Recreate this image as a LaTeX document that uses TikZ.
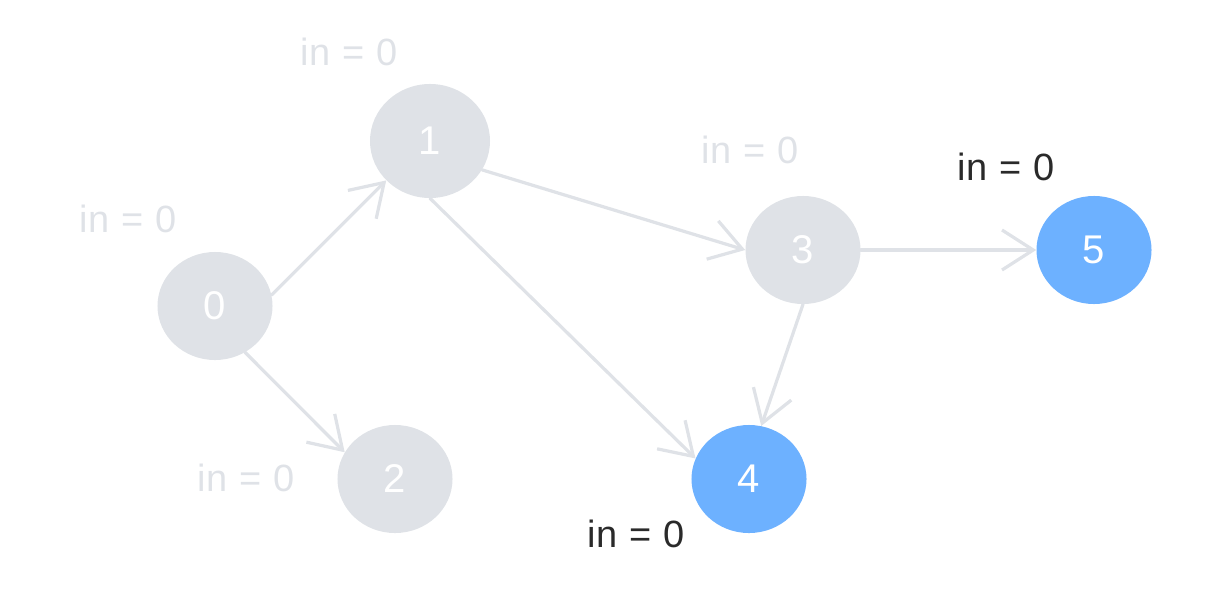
\documentclass[tikz,border=0pt]{standalone}
\usepackage{fontspec}
\setmainfont{Liberation Sans}
\usetikzlibrary{arrows.meta,shapes.geometric}
\definecolor{vertexgrey}{HTML}{DFE2E7}
\definecolor{vertexblue}{HTML}{6DB1FF}
\definecolor{labeldark}{HTML}{2A2A2A}
\tikzset{
  graph vertex/.style={ellipse,fill=vertexgrey,text=white,minimum width=2.875cm,
    minimum height=2.7cm,inner sep=0pt,font=\fontsize{28.5}{32}\selectfont},
  ready vertex/.style={graph vertex,fill=vertexblue},
  graph edge/.style={draw=vertexgrey,line width=2.3pt,
    -{Straight Barb[length=0.78cm,width=1cm,line width=2.3pt]}},
  indeg label/.style={anchor=base,text=vertexgrey,
    font=\fontsize{27}{30}\selectfont\addfontfeature{LetterSpace=3}},
  ready label/.style={indeg label,text=labeldark}
}

\begin{document}
\begin{tikzpicture}[x=0.025cm,y=-0.025cm,line cap=round,line join=round]
  \useasboundingbox (0,0) rectangle (1221,591);

  \node[graph vertex] (v0) at (215,306) {0};
  \node[graph vertex,minimum width=3cm,minimum height=2.85cm] (v1) at (430,141) {1};
  \node[graph vertex] (v2) at (395,479) {2};
  \node[graph vertex] (v3) at (803,250) {3};
  \node[ready vertex] (v4) at (749,479) {4};
  \node[ready vertex] (v5) at (1094,250) {5};

  \draw[graph edge] (v0.11) -- (v1.222);
  \draw[graph edge] (v0.303) -- (v2.152);
  \draw[graph edge] (v1.331) -- (v3.180);
  \draw[graph edge] (v1.270) -- (v4.159);
  \draw[graph edge] (v3.0) -- (v5.180);
  \draw[graph edge] (v3.270) -- (v4.77);

  \node[indeg label] (d0) at (128,232) {in = 0};
  \node[indeg label] (d1) at (349,66) {in = 0};
  \node[indeg label] (d2) at (246,491) {in = 0};
  \node[indeg label] (d3) at (750,163) {in = 0};
  \node[ready label] (d4) at (636,547) {in = 0};
  \node[ready label] (d5) at (1006,180) {in = 0};
\end{tikzpicture}
\end{document}
